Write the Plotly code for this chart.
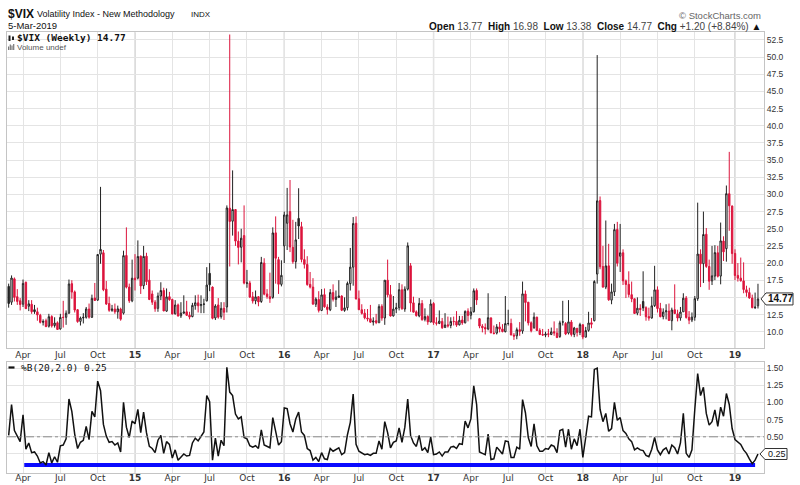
import pandas as pd
import plotly.graph_objects as go

# ---------------- data ----------------
start_date = "2014-03-03"
n_weeks = 262
prev_close_before = 14.00

opens = [16.6,14.3,17.7,15.1,14.5,14.0,17.2,13.7,14.0,13.2,12.9,12.4,11.5,11.6,10.8,12.2,10.9,11.3,10.4,12.1,
 12.1,12.7,17.0,15.8,13.2,11.5,12.0,12.1,13.3,12.1,14.9,14.6,21.3,21.5,16.2,14.1,13.1,13.3,12.9,13.3,
 12.7,21.1,16.5,14.5,17.8,17.8,21.0,16.7,21.0,17.5,15.5,14.3,13.4,15.2,16.0,13.0,15.1,14.7,12.6,13.9,
 12.3,12.7,12.9,12.4,12.2,13.8,14.2,13.8,14.0,14.5,18.5,16.5,12.0,13.9,12.2,13.4,13.6,28.0,26.1,27.8,
 23.2,22.3,24.0,17.1,17.1,15.1,14.5,15.1,14.4,20.0,15.5,15.1,15.0,24.4,20.5,16.9,22.5,25.8,27.5,22.3,
 20.2,26.5,25.3,20.5,19.8,16.9,16.5,14.0,14.7,13.1,15.4,13.6,13.2,15.7,14.7,15.0,15.2,13.1,13.5,17.0,
 19.4,25.8,14.8,13.2,12.7,12.0,11.9,11.4,11.6,11.3,13.7,12.0,17.5,15.4,12.3,13.3,13.5,16.1,13.3,16.2,
 19.6,14.2,12.9,12.3,14.1,11.8,12.2,11.4,14.1,11.3,11.2,11.5,10.6,11.0,10.9,11.5,11.5,11.0,11.7,11.3,
 13.0,12.4,12.9,16.0,11.9,10.8,10.6,10.4,12.0,9.8,9.8,10.7,10.4,10.0,11.2,11.2,9.5,9.4,10.3,10.1,
 15.5,14.3,11.3,10.6,12.1,10.2,9.6,9.5,9.7,9.6,10.0,9.8,9.3,11.4,11.2,9.8,11.4,9.6,10.5,9.9,
 11.0,9.2,10.2,11.3,11.6,18.4,29.1,19.5,16.5,19.6,14.6,15.8,24.9,21.0,21.5,17.4,16.9,15.4,14.8,12.7,
 13.4,14.4,13.5,12.2,12.0,13.8,16.1,13.4,12.2,12.9,13.0,11.6,13.2,12.6,12.0,12.9,14.9,12.1,11.7,12.1,
 14.8,21.3,19.9,24.2,19.5,17.4,18.1,21.5,18.1,23.2,22.1,30.1,28.3,21.4,18.2,17.8,17.4,16.1,15.7,14.9,
 13.5,13.77]
highs = [17.0,18.2,17.9,16.2,14.9,17.6,17.3,14.6,14.6,13.9,13.5,12.6,11.8,11.9,12.6,12.4,12.1,11.5,12.6,14.5,
 13.1,17.6,17.5,16.0,13.3,12.2,12.7,13.6,14.1,15.4,17.1,21.3,31.1,21.9,17.4,15.1,13.9,14.1,13.8,13.5,
 21.8,25.2,17.0,20.5,21.3,23.3,21.1,22.5,21.5,19.1,16.0,14.6,15.7,17.2,16.4,16.3,15.8,14.8,14.6,14.1,
 14.3,15.3,14.5,12.9,14.2,15.3,15.4,15.3,14.8,19.4,20.0,16.6,14.0,14.9,14.3,14.3,28.4,53.3,33.5,27.8,
 24.6,25.0,28.4,19.0,17.4,15.8,16.0,15.2,20.9,20.7,16.2,18.6,25.2,26.8,20.9,20.4,27.5,30.95,32.1,26.3,
 26.0,30.9,26.0,22.0,21.0,18.7,17.8,15.0,15.9,16.2,16.3,14.0,16.2,16.9,16.0,17.5,15.3,15.0,17.3,22.2,
 26.7,26.8,16.0,14.0,13.3,13.3,13.9,12.1,12.6,14.0,14.0,17.5,20.5,16.8,15.2,14.2,17.1,16.9,16.6,23.0,
 20.0,15.1,13.1,14.9,14.6,13.4,12.4,14.7,14.3,12.1,13.1,12.0,12.7,12.2,12.1,12.2,13.0,12.3,12.3,13.1,
 13.4,13.6,16.3,16.3,12.0,11.1,11.2,15.6,12.1,10.9,11.1,11.4,11.1,15.2,13.2,11.9,9.8,10.6,11.4,17.3,
 16.0,14.3,11.5,12.8,12.2,10.5,10.4,10.0,10.4,10.6,11.5,10.5,11.6,14.5,11.4,14.6,11.7,10.7,10.5,11.3,
 11.1,10.7,12.9,12.0,17.5,50.3,29.7,22.5,26.2,22.8,17.0,25.7,26.0,25.7,22.0,17.6,18.8,17.3,14.8,15.0,
 14.0,18.8,13.7,13.5,15.1,19.6,16.6,14.2,13.4,14.0,14.1,13.5,16.9,13.2,13.6,15.6,15.2,13.0,12.8,15.2,
 28.8,22.0,27.5,25.1,20.5,22.5,22.6,22.5,25.9,23.9,31.3,36.2,28.4,22.0,20.0,20.8,20.1,16.7,16.4,15.4,
 15.7,16.98]
lows = [13.5,13.9,14.4,13.9,13.1,13.6,13.3,13.0,12.6,12.6,11.6,11.2,10.9,10.7,10.6,10.6,10.6,10.3,10.3,10.6,
 11.0,12.6,14.8,12.8,11.3,10.9,11.2,11.9,11.9,12.0,14.5,14.5,19.9,15.9,13.9,12.9,12.9,12.6,11.9,11.6,
 12.5,16.3,14.2,14.3,16.0,17.6,15.5,16.2,16.8,14.6,13.9,12.9,12.9,14.6,13.0,12.9,14.5,12.5,12.5,12.2,
 12.0,12.6,12.3,11.8,12.1,13.2,12.8,12.7,12.7,14.4,15.9,11.8,11.7,11.9,11.9,11.7,12.8,19.5,24.0,22.5,
 19.8,20.1,16.9,16.4,14.9,14.1,14.0,13.7,14.2,15.3,14.8,14.2,14.8,17.0,15.5,16.6,20.0,21.9,21.6,19.9,
 19.2,23.5,20.1,19.2,16.7,16.3,13.9,13.6,12.8,13.0,13.5,12.5,13.0,14.4,13.6,14.9,13.0,12.9,13.1,16.0,
 16.7,14.7,13.2,12.5,11.8,11.5,11.3,10.9,11.1,11.3,11.6,11.0,15.0,12.2,12.2,12.7,13.1,13.2,12.9,16.0,
 12.9,12.8,12.2,12.1,11.6,11.5,11.0,11.4,11.0,10.9,11.1,10.4,10.6,10.6,10.5,10.9,10.7,10.9,11.0,11.2,
 11.5,11.8,12.8,13.9,10.5,9.9,9.6,10.2,9.8,9.6,9.6,9.9,9.9,9.9,10.9,9.5,8.8,8.9,9.4,9.7,
 11.5,10.9,9.9,10.4,10.1,9.5,9.4,9.2,9.2,9.5,9.4,9.1,9.1,10.9,9.5,9.6,9.3,9.2,9.3,9.5,
 8.9,9.2,10.0,10.5,11.5,17.0,19.1,16.5,16.2,14.5,14.0,15.2,19.5,18.7,16.8,14.9,15.0,14.3,12.6,12.4,
 12.3,13.0,11.6,11.6,11.9,13.6,12.8,12.1,11.8,11.8,11.6,10.2,12.7,11.5,11.6,12.9,11.9,11.1,11.4,11.6,
 14.5,16.5,17.1,19.3,16.1,16.8,17.5,17.9,16.9,20.3,20.2,24.7,19.9,17.5,17.3,17.3,15.6,15.1,14.8,13.4,
 13.3,13.38]
closes = [14.11,17.82,15.00,14.41,13.96,17.03,13.36,14.06,12.91,12.92,12.44,11.36,11.40,10.73,12.18,10.85,11.26,10.32,12.08,12.06,
 12.69,16.95,15.77,13.15,11.47,11.98,12.09,13.31,12.11,14.85,14.55,21.24,21.99,16.11,14.03,13.12,13.31,12.90,13.33,11.82,
 21.08,16.49,14.50,17.79,17.55,20.95,16.66,20.97,17.29,14.69,14.30,13.34,15.20,16.00,13.02,15.07,14.67,12.58,13.89,12.29,
 12.70,12.86,12.38,12.13,13.84,14.21,13.78,13.96,14.02,16.79,16.83,11.95,13.74,12.12,13.39,12.83,28.03,26.05,27.80,23.20,
 22.28,23.62,17.08,17.08,15.05,14.46,15.07,14.33,20.08,15.47,15.12,14.81,24.39,20.70,16.91,18.21,27.01,27.02,22.34,20.20,
 23.38,25.40,20.53,19.81,16.86,16.50,14.02,14.74,13.10,15.36,13.62,13.22,15.70,14.72,15.04,15.20,13.12,13.47,17.03,19.41,
 25.76,14.77,13.20,12.67,12.02,11.87,11.39,11.55,11.34,13.65,11.98,17.50,15.37,12.29,13.29,13.48,16.12,13.34,16.19,22.51,
 14.17,12.85,12.34,14.12,11.75,12.20,11.44,14.04,11.32,11.23,11.54,10.58,10.97,10.85,11.49,11.47,10.96,11.66,11.28,12.96,
 12.37,12.87,15.96,14.63,10.82,10.57,10.40,12.04,9.81,9.75,10.70,10.38,10.02,11.18,11.19,9.51,9.36,10.29,10.03,15.51,
 14.26,11.28,10.13,12.12,10.17,9.59,9.51,9.65,9.61,9.97,9.80,9.14,11.29,11.43,9.67,11.43,9.58,10.53,9.90,11.04,
 9.22,10.16,11.27,11.08,17.31,29.06,19.46,16.49,19.59,14.64,15.80,24.87,19.97,21.49,17.41,16.88,15.41,14.77,12.65,13.42,
 13.22,13.46,12.18,11.98,13.77,16.09,13.37,12.18,12.86,13.03,11.64,13.16,12.64,11.99,12.86,14.88,12.07,11.68,12.12,14.82,
 21.31,19.89,24.16,19.51,17.36,18.14,21.52,18.07,23.23,21.63,30.11,28.34,21.38,18.19,17.80,17.42,16.14,15.72,14.91,13.51,
 13.57,14.77]

pct_b = [0.52,0.97,0.59,0.50,0.43,0.82,0.32,0.41,0.27,0.28,0.22,0.12,0.14,0.09,0.27,0.12,0.21,0.13,0.37,0.38,0.47,1.05,0.87,0.54,
 0.33,0.42,0.45,0.65,0.46,0.87,0.79,1.31,1.17,0.68,0.51,0.42,0.43,0.38,0.41,0.28,1.00,0.64,0.49,0.73,0.69,0.90,0.56,0.86,
 0.56,0.36,0.33,0.27,0.45,0.52,0.26,0.43,0.39,0.19,0.31,0.16,0.21,0.25,0.22,0.23,0.41,0.48,0.44,0.51,0.57,1.10,1.01,0.16,
 0.48,0.22,0.45,0.37,1.51,1.15,1.10,0.83,0.76,0.79,0.49,0.47,0.37,0.35,0.37,0.33,0.60,0.38,0.36,0.34,0.78,0.58,0.38,0.43,
 0.92,0.91,0.69,0.57,0.76,0.86,0.57,0.52,0.33,0.30,0.16,0.20,0.14,0.27,0.18,0.17,0.33,0.29,0.32,0.34,0.24,0.27,0.53,0.71,
 1.12,0.39,0.29,0.27,0.24,0.25,0.23,0.26,0.26,0.44,0.32,0.72,0.56,0.34,0.42,0.44,0.63,0.42,0.64,1.05,0.52,0.41,0.36,0.52,
 0.30,0.34,0.27,0.50,0.24,0.25,0.28,0.22,0.28,0.28,0.35,0.36,0.33,0.40,0.39,0.73,0.63,0.76,1.24,0.97,0.28,0.26,0.24,0.54,
 0.17,0.18,0.35,0.30,0.25,0.44,0.43,0.20,0.20,0.35,0.32,1.04,0.85,0.49,0.36,0.69,0.37,0.29,0.29,0.33,0.32,0.38,0.36,0.27,
 0.59,0.61,0.35,0.61,0.32,0.47,0.37,0.61,0.20,0.49,0.80,0.79,1.48,1.50,0.90,0.72,0.84,0.58,0.62,1.00,0.74,0.78,0.59,0.55,
 0.47,0.43,0.31,0.34,0.31,0.30,0.23,0.21,0.32,0.49,0.31,0.24,0.31,0.34,0.25,0.38,0.34,0.25,0.41,0.84,0.26,0.20,0.31,0.90,
 1.42,1.10,1.22,0.84,0.67,0.72,0.89,0.65,0.93,0.80,1.13,0.97,0.62,0.46,0.42,0.39,0.31,0.26,0.18,0.11,0.16,0.25]

trend_dates = ["2014-04-10", "2019-02-25"]
trend_vals = [0.09, 0.09]

price_ticks = [10 + 2.5 * k for k in range(18)]
pctb_ticks = [0.25, 0.5, 0.75, 1.0, 1.25, 1.5]

dates = pd.date_range(start_date, periods=n_weeks, freq="7D")

W, H = 800, 485
def px(x): return x / W
def py(y): return 1 - y / H

RED = "#dc143c"
BLK = "#222222"
GRID = "#e4e4e4"
FONT = "Liberation Sans"
MONO = "DejaVu Sans Mono"

prev = [prev_close_before] + closes[:-1]
blk_idx = [i for i in range(n_weeks) if closes[i] >= prev[i]]
red_idx = [i for i in range(n_weeks) if closes[i] < prev[i]]

def candle(idx, color):
    return go.Candlestick(
        x=[dates[i] for i in idx], open=[opens[i] for i in idx], high=[highs[i] for i in idx],
        low=[lows[i] for i in idx], close=[closes[i] for i in idx],
        increasing=dict(line=dict(color=color, width=1), fillcolor="white"),
        decreasing=dict(line=dict(color=color, width=1), fillcolor=color),
        whiskerwidth=0, showlegend=False, hoverinfo="skip", xaxis="x", yaxis="y")

fig = go.Figure()
fig.add_trace(candle(blk_idx, BLK))
fig.add_trace(candle(red_idx, RED))
fig.add_trace(go.Scatter(x=trend_dates, y=trend_vals, mode="lines", line=dict(color="#0a0aff", width=4),
                         showlegend=False, hoverinfo="skip", xaxis="x2", yaxis="y2"))
fig.add_trace(go.Scatter(x=dates, y=pct_b, mode="lines", line=dict(color="#111111", width=1.5),
                         showlegend=False, hoverinfo="skip", xaxis="x2", yaxis="y2"))

# quarterly ticks at first bar of Jan/Apr/Jul/Oct
tickvals, ticktext, yearvals = [], [], []
seen = set()
for d in dates:
    if d.month in (1, 4, 7, 10) and (d.year, d.month) not in seen:
        seen.add((d.year, d.month))
        tickvals.append(d)
        if d.month == 1:
            ticktext.append("<b>%02d</b>" % (d.year % 100))
            yearvals.append(d)
        else:
            ticktext.append(d.strftime("%b"))

# tick labels hidden where the last-value tag sits
def tick_labels(vals, last, half, fmt):
    return ["" if abs(v - last) < half else fmt % v for v in vals]

xrange_ = ["2014-02-26 22:00", "2019-03-18 17:00"]
xdom = [px(7), px(764)]
xcommon = dict(type="date", range=xrange_, tickvals=tickvals, ticktext=ticktext, showgrid=True,
               gridcolor=GRID, gridwidth=1, ticks="", tickfont=dict(family="DejaVu Sans", size=9, color="#333"),
               showline=True, linecolor="#c4c4c4", mirror=True, zeroline=False, domain=xdom, automargin=False)
ycommon = dict(side="right", showgrid=True, gridcolor=GRID, ticks="", tickfont=dict(size=8.5, color="#333"),
               showline=True, linecolor="#c4c4c4", mirror=True, zeroline=False, automargin=False)
fig.update_layout(
    width=W, height=H, paper_bgcolor="white", plot_bgcolor="white",
    margin=dict(l=0, r=0, t=0, b=0, pad=0), font=dict(family=FONT),
    xaxis=dict(**xcommon, anchor="y", rangeslider=dict(visible=False), ticklabelstandoff=-2),
    xaxis2=dict(**xcommon, anchor="y2", matches="x", ticklabelstandoff=-4),
    yaxis=dict(**ycommon, domain=[py(348.3), py(32.3)], range=[7.58, 53.62], anchor="x",
               tickvals=price_ticks, ticktext=tick_labels(price_ticks, closes[-1], 1.2, "%.1f")),
    yaxis2=dict(**ycommon, domain=[py(472.7), py(361.7)], range=[-0.022, 1.592], anchor="x2",
                tickvals=pctb_ticks, ticktext=tick_labels(pctb_ticks, pct_b[-1], 0.1, "%.2f")),
)

shapes = []
for d in yearvals:
    for ax in ("y", "y2"):
        shapes.append(dict(type="line", xref="x", yref=ax + " domain", x0=d, x1=d, y0=0, y1=1,
                           line=dict(color="#c8c8c8", width=1.3), layer="below"))
shapes.append(dict(type="line", xref="x2 domain", yref="y2", x0=0, x1=1, y0=0.5, y1=0.5,
                   line=dict(color="#8a8a8a", width=1, dash="dashdot")))

# last-value tags on the right
def tag(yref, val, half_h, x_point, x_left, x_right, text, size, bold):
    shapes.append(dict(type="path", xref="paper", yref=yref, line=dict(color="#333", width=1), fillcolor="white",
                       path="M %f,%f L %f,%f L %f,%f L %f,%f L %f,%f Z" % (
                           px(x_point), val, px(x_left), val + half_h, px(x_right), val + half_h,
                           px(x_right), val - half_h, px(x_left), val - half_h)))
    fig.add_annotation(text=("<b>%s</b>" % text) if bold else text, x=px((x_left + x_right) / 2 + 0.5), y=val,
                       xref="paper", yref=yref, showarrow=False, xanchor="center", yanchor="middle",
                       font=dict(size=size, color="#111", family=FONT))

tag("y", closes[-1], 6.0 / 6.864, 761, 766, 793, "%.2f" % closes[-1], 10, True)
tag("y2", pct_b[-1], 5.5 / 68.8, 760, 765, 787, "%.2f" % pct_b[-1], 9, False)

# legend icons
shapes.append(dict(type="rect", xref="paper", yref="paper", x0=px(8.5), x1=px(10.5), y0=py(41), y1=py(35.5),
                   fillcolor="#222", line=dict(width=0)))
shapes.append(dict(type="rect", xref="paper", yref="paper", x0=px(12), x1=px(14), y0=py(40), y1=py(36.5),
                   fillcolor="#222", line=dict(width=0)))
for k, h in enumerate((3.5, 5.5, 4.5, 6)):
    shapes.append(dict(type="rect", xref="paper", yref="paper", x0=px(8 + 1.7 * k), x1=px(9.2 + 1.7 * k),
                       y0=py(50), y1=py(50 - h), fillcolor="#777", line=dict(width=0)))
shapes.append(dict(type="line", xref="paper", yref="paper", x0=px(8.5), x1=px(14.5), y0=py(367.5), y1=py(367.5),
                   line=dict(color="#111", width=2.2)))
fig.update_layout(shapes=shapes)

def ann(text, x, y, size, anchor="left", color="#111", family=FONT, yanchor="middle"):
    fig.add_annotation(text=text, x=px(x), y=py(y), xref="paper", yref="paper", showarrow=False,
                       xanchor=anchor, yanchor=yanchor, font=dict(size=size, color=color, family=family))

ann("<b>$VIX</b>", 6, 13.5, 12)
ann("Volatility Index - New Methodology", 35, 14, 9)
ann("INDX", 189, 14, 8)
ann("5-Mar-2019", 6, 25.5, 9.5)
ann("© StockCharts.com", 763, 15, 9.5, anchor="right", color="#666")
ann("<b>Open</b> <span style='color:#444'>13.77</span>  <b>High</b> <span style='color:#444'>16.98</span>  "
    "<b>Low</b> <span style='color:#444'>13.38</span>  <b>Close</b> <span style='color:#444'>14.77</span>  "
    "<b>Chg</b> <span style='color:#444'>+1.20 (+8.84%)</span> ▲", 763, 26, 10, anchor="right")
ann("<b>$VIX (Weekly) %.2f</b>" % closes[-1], 15, 38.0, 9.5, family=MONO)
ann("Volume undef", 14.5, 47.8, 8, color="#555")
ann("%%B(20,2.0) %.2f" % pct_b[-1], 19, 367.5, 9.5, family=MONO)

fig.write_html("out.html", config={"displayModeBar": False, "staticPlot": True},
               post_script="document.body.style.margin='0px';document.body.style.padding='0px';"
                           "document.body.style.overflow='hidden';")
